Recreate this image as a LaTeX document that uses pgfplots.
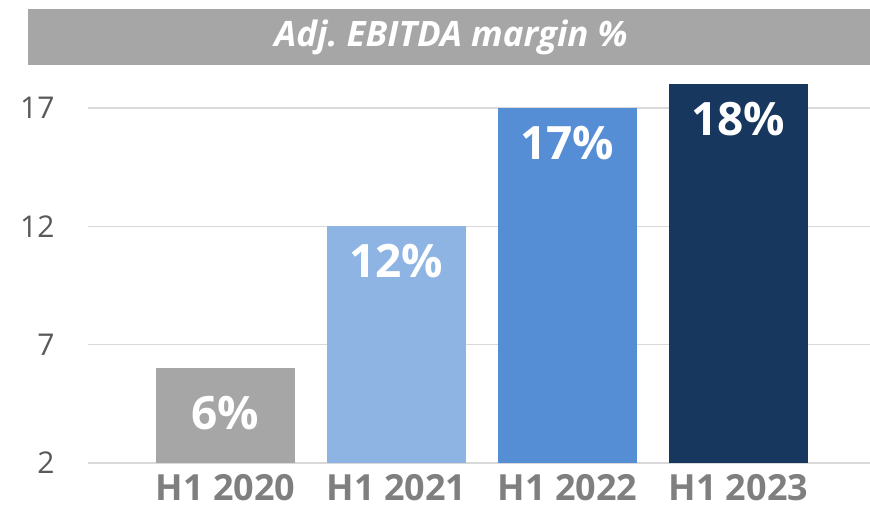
\documentclass[border=0pt]{standalone}
\usepackage{pgfplots}
\pgfplotsset{compat=1.18}
\usepackage{fontspec}
\setmainfont{Open Sans}
\definecolor{titlegray}{HTML}{A6A6A6}
\definecolor{bargray}{HTML}{A6A6A6}
\definecolor{lightblue}{HTML}{8EB4E3}
\definecolor{midblue}{HTML}{558ED5}
\definecolor{darkblue}{HTML}{17375E}
\definecolor{gridc}{HTML}{D9D9D9}
\definecolor{ticktext}{HTML}{595959}
\definecolor{xlabtext}{HTML}{7F7F7F}
\pgfplotsset{/pgf/number format/assume math mode=true}
\begin{document}
\begin{tikzpicture}[x=1bp,y=1bp]
\useasboundingbox (0,0) rectangle (870,512);
\fill[titlegray] (28,447) rectangle (870,503);
\node[text=white, font=\fontsize{35bp}{40bp}\selectfont\bfseries\itshape, inner sep=0] at (451,475) {Adj.\ EBITDA margin \%};
\begin{axis}[
  at={(88bp,49bp)}, anchor=south west,
  scale only axis,
  width=782bp, height=378.7bp,
  xmin=-0.804, xmax=3.77,
  ymin=2, ymax=18,
  clip=false,
  axis line style={draw=none},
  ymajorgrids,
  major grid style={draw=gridc, line width=1.3bp},
  ytick={2,7,12,17},
  xtick={0,1,2,3},
  xticklabels={H1 2020,H1 2021,H1 2022,H1 2023},
  major tick length=0pt,
  yticklabel style={font=\fontsize{30bp}{34bp}\selectfont, text=ticktext, xshift=-30bp},
  xticklabel style={font=\fontsize{36bp}{40bp}\selectfont\bfseries, text=xlabtext, anchor=north, yshift=-8bp},
  ybar,
  bar width=139bp,
  nodes near coords={\pgfmathprintnumber[fixed,precision=0]{\pgfplotspointmeta}\%},
  every node near coord/.append style={anchor=north, inner sep=0pt, text=white, font=\fontsize{46bp}{50bp}\selectfont\bfseries, yshift=-18bp},
]
\addplot[fill=bargray, draw=none, bar shift=0pt, every node near coord/.append style={yshift=-10bp}] coordinates {(0,6)};
\addplot[fill=lightblue, draw=none, bar shift=0pt] coordinates {(1,12)};
\addplot[fill=midblue, draw=none, bar shift=0pt] coordinates {(2,17)};
\addplot[fill=darkblue, draw=none, bar shift=0pt] coordinates {(3,18)};
\end{axis}
\end{tikzpicture}
\end{document}
